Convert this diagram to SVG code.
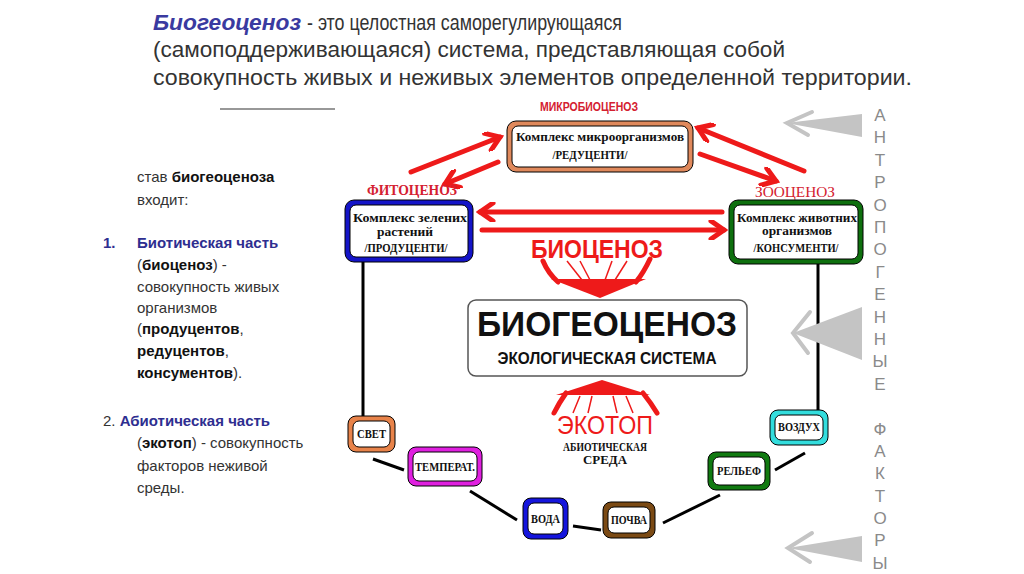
<svg xmlns="http://www.w3.org/2000/svg" width="1024" height="574" viewBox="0 0 1024 574">
<style>
.title{font-family:"Liberation Sans Narrow","Liberation Sans",Arial,sans-serif;font-size:22px;fill:#333}
.tb{fill:#3a3aa0;font-weight:bold;font-style:italic}
.lt{font-family:"Liberation Sans Narrow","Liberation Sans",Arial,sans-serif;font-size:15px;fill:#333}
.b{font-weight:bold;fill:#111}
.bl{font-weight:bold;fill:#2e2e90}
.nt{font-family:"Liberation Serif","Times New Roman",serif;font-size:12px;font-weight:bold;fill:#111;text-anchor:middle}
.lab{font-family:"Liberation Serif","Times New Roman",serif;font-size:14px;font-weight:bold;fill:#d42030;text-anchor:middle}
.inner{fill:#fff;stroke:#000;stroke-width:1}
.outer{stroke:#000;stroke-width:1}
.red{stroke:#ee1a1a;stroke-width:5;fill:none;stroke-linecap:round}
.blk{stroke:#000;stroke-width:3;fill:none}
.gray{fill:#c4c4c4}
.grayl{stroke:#c4c4c4;stroke-width:4;fill:none;stroke-linecap:round}
.vt{font-family:"Liberation Sans",Arial,sans-serif;font-size:17px;fill:#8a8a8a;text-anchor:middle}
</style>
<defs>
<marker id="ah" viewBox="0 0 20 20" refX="16" refY="10" markerWidth="20" markerHeight="20" markerUnits="userSpaceOnUse" orient="auto">
<path d="M3,1 L16,10 L3,19" fill="none" stroke="#ee1a1a" stroke-width="5" stroke-linecap="round" stroke-linejoin="miter"/>
</marker>
</defs>
<rect width="1024" height="574" fill="#fff"/>

<g id="title">
<text class="title tb" x="153" y="30" textLength="148" lengthAdjust="spacingAndGlyphs">Биогеоценоз</text>
<text class="title" x="307" y="30" textLength="315" lengthAdjust="spacingAndGlyphs">- это целостная саморегулирующаяся</text>
<text class="title" x="153" y="57" textLength="632" lengthAdjust="spacingAndGlyphs">(самоподдерживающаяся) система, представляющая собой</text>
<text class="title" x="153" y="85" textLength="759" lengthAdjust="spacingAndGlyphs">совокупность живых и неживых элементов определенной территории.</text>
<line x1="220" y1="109" x2="335" y2="109" stroke="#333" stroke-width="1.2"/>
</g>

<g id="left-text">
<text class="lt" x="137" y="182">став <tspan class="b">биогеоценоза</tspan></text>
<text class="lt" x="137" y="205">входит:</text>
<text class="lt" x="103" y="248"><tspan class="bl">1.</tspan></text>
<text class="lt" x="137" y="248"><tspan class="bl">Биотическая часть</tspan></text>
<text class="lt" x="137" y="270">(<tspan class="b">биоценоз</tspan>) -</text>
<text class="lt" x="137" y="292">совокупность живых</text>
<text class="lt" x="137" y="313">организмов</text>
<text class="lt" x="137" y="334">(<tspan class="b">продуцентов</tspan>,</text>
<text class="lt" x="137" y="356"><tspan class="b">редуцентов</tspan>,</text>
<text class="lt" x="137" y="378"><tspan class="b">консументов</tspan>).</text>
<text class="lt" x="103" y="426">2. <tspan class="bl">Абиотическая часть</tspan></text>
<text class="lt" x="137" y="448">(<tspan class="b">экотоп</tspan>) - совокупность</text>
<text class="lt" x="137" y="471">факторов неживой</text>
<text class="lt" x="137" y="493">среды.</text>
</g>

<g id="connectors">
<line class="red" x1="411" y1="172" x2="500" y2="137" marker-end="url(#ah)"/>
<line class="red" x1="498" y1="162" x2="445" y2="184" marker-end="url(#ah)"/>
<line class="red" x1="804" y1="171" x2="698" y2="128" marker-end="url(#ah)"/>
<line class="red" x1="700" y1="154" x2="776" y2="181" marker-end="url(#ah)"/>
<line class="red" x1="722" y1="212" x2="480" y2="212" marker-end="url(#ah)"/>
<line class="red" x1="482" y1="230" x2="724" y2="230" marker-end="url(#ah)"/>
<line class="blk" x1="363" y1="262" x2="363" y2="416"/>
<line class="blk" x1="373" y1="459" x2="404" y2="470"/>
<line class="blk" x1="470" y1="491" x2="517" y2="520"/>
<line class="blk" x1="573" y1="526" x2="601" y2="530"/>
<line class="blk" x1="663" y1="523" x2="720" y2="495"/>
<line class="blk" x1="775" y1="470" x2="805" y2="453"/>
<line class="blk" x1="818" y1="264" x2="818" y2="410"/>
</g>

<g id="microbiocenosis">
<text class="lab" x="589" y="111" style="font-family:'Liberation Sans',Arial,sans-serif;font-size:13px" textLength="98" lengthAdjust="spacingAndGlyphs">МИКРОБИОЦЕНОЗ</text>
<rect class="outer" x="507" y="121" width="186" height="51" rx="9" fill="#e0895c"/>
<rect class="inner" x="512" y="126" width="176" height="41" rx="6"/>
<text class="nt" x="600" y="141" textLength="168" lengthAdjust="spacingAndGlyphs">Комплекс микроорганизмов</text>
<text class="nt" x="590" y="159" textLength="75" lengthAdjust="spacingAndGlyphs">/РЕДУЦЕНТИ/</text>
</g>

<g id="phytocenosis">
<text class="lab" x="412" y="195" textLength="90" lengthAdjust="spacingAndGlyphs">ФИТОЦЕНОЗ</text>
<rect class="outer" x="345" y="200" width="128" height="62" rx="9" fill="#1414c8"/>
<rect class="inner" x="350" y="205" width="118" height="52" rx="6"/>
<text class="nt" x="410" y="222" textLength="114" lengthAdjust="spacingAndGlyphs">Комплекс зелених</text>
<text class="nt" x="405" y="236" textLength="56" lengthAdjust="spacingAndGlyphs">растений</text>
<text class="nt" x="406" y="252" textLength="83" lengthAdjust="spacingAndGlyphs">/ПРОДУЦЕНТИ/</text>
</g>

<g id="zoocenosis">
<text class="lab" x="795" y="197" style="font-weight:normal" textLength="80" lengthAdjust="spacingAndGlyphs">ЗООЦЕНОЗ</text>
<rect class="outer" x="729" y="200" width="134" height="64" rx="9" fill="#0e700e"/>
<rect class="inner" x="734" y="205" width="124" height="54" rx="6"/>
<text class="nt" x="797" y="222" textLength="120" lengthAdjust="spacingAndGlyphs">Комплекс животних</text>
<text class="nt" x="797" y="235" textLength="70" lengthAdjust="spacingAndGlyphs">организмов</text>
<text class="nt" x="796" y="252" textLength="85" lengthAdjust="spacingAndGlyphs">/КОНСУМЕНТИ/</text>
</g>

<g id="biocenosis">
<text x="597" y="258" font-family="Liberation Sans, Arial, sans-serif" font-size="26" font-weight="bold" fill="#ee1a1a" text-anchor="middle" textLength="132" lengthAdjust="spacingAndGlyphs">БИОЦЕНОЗ</text>
<path d="M543,261 Q548,273 558,282" class="red"/>
<path d="M650,259 Q644,272 636,282" class="red"/>
<g stroke="#ee1a1a" stroke-width="1.5">
<line x1="567" y1="261" x2="582" y2="280"/>
<line x1="580" y1="261" x2="590" y2="280"/>
<line x1="612" y1="261" x2="605" y2="280"/>
<line x1="627" y1="261" x2="615" y2="280"/>
</g>
<polygon points="551,279 646,279 600,298" fill="#ee1a1a"/>
</g>

<g id="biogeocenosis">
<rect x="468" y="300" width="279" height="76" rx="8" fill="#fff" stroke="#555" stroke-width="1.5"/>
<text x="607" y="336" font-family="Liberation Sans, Arial, sans-serif" font-size="35" font-weight="bold" fill="#111" text-anchor="middle" textLength="260" lengthAdjust="spacingAndGlyphs">БИОГЕОЦЕНОЗ</text>
<text x="607" y="364" font-family="Liberation Sans, Arial, sans-serif" font-size="16" font-weight="bold" fill="#111" text-anchor="middle" textLength="219" lengthAdjust="spacingAndGlyphs">ЭКОЛОГИЧЕСКАЯ СИСТЕМА</text>
</g>

<g id="ecotop">
<polygon points="602,380 650,395 556,395" fill="#ee1a1a"/>
<path d="M566,393 Q559,403 554,413" class="red"/>
<path d="M643,393 Q651,403 657,413" class="red"/>
<g stroke="#ee1a1a" stroke-width="1.5">
<line x1="580" y1="396" x2="573" y2="413"/>
<line x1="592" y1="396" x2="588" y2="413"/>
<line x1="613" y1="396" x2="617" y2="413"/>
<line x1="626" y1="396" x2="633" y2="413"/>
</g>
<text x="605" y="434" font-family="Liberation Sans, Arial, sans-serif" font-size="26" fill="#ee1a1a" text-anchor="middle" textLength="96" lengthAdjust="spacingAndGlyphs">ЭКОТОП</text>
<text class="nt" x="605" y="451" style="font-size:13px" textLength="84" lengthAdjust="spacingAndGlyphs">АБИОТИЧЕСКАЯ</text>
<text class="nt" x="605" y="464" style="font-size:13px" textLength="44" lengthAdjust="spacingAndGlyphs">СРЕДА</text>
</g>

<g id="svet">
<rect class="outer" x="348" y="416" width="47" height="36" rx="8" fill="#e8834a"/>
<rect class="inner" x="353" y="421" width="37" height="26" rx="6"/>
<text class="nt" x="371.5" y="438" textLength="29" lengthAdjust="spacingAndGlyphs">СВЕТ</text>
</g>
<g id="temperat">
<rect class="outer" x="408" y="447" width="74" height="39" rx="8" fill="#e020e0"/>
<rect class="inner" x="413" y="452" width="64" height="29" rx="6"/>
<text class="nt" x="445" y="471" textLength="60" lengthAdjust="spacingAndGlyphs">ТЕМПЕРАТ.</text>
</g>
<g id="voda">
<rect class="outer" x="523" y="498" width="45" height="41" rx="8" fill="#1515dd"/>
<rect class="inner" x="528" y="503" width="35" height="31" rx="6"/>
<text class="nt" x="545.5" y="523" textLength="29" lengthAdjust="spacingAndGlyphs">ВОДА</text>
</g>
<g id="pochva">
<rect class="outer" x="603" y="502" width="52" height="36" rx="8" fill="#7b4a14"/>
<rect class="inner" x="608" y="507" width="42" height="26" rx="6"/>
<text class="nt" x="629" y="524" textLength="36" lengthAdjust="spacingAndGlyphs">ПОЧВА</text>
</g>
<g id="relief">
<rect class="outer" x="708" y="452" width="62" height="38" rx="8" fill="#117a11"/>
<rect class="inner" x="713" y="457" width="52" height="28" rx="6"/>
<text class="nt" x="739" y="475" textLength="44" lengthAdjust="spacingAndGlyphs">РЕЛЬЕФ</text>
</g>
<g id="vozdukh">
<rect class="outer" x="770" y="410" width="58" height="35" rx="8" fill="#33dddd"/>
<rect class="inner" x="775" y="415" width="48" height="25" rx="6"/>
<text class="nt" x="799" y="431" textLength="42" lengthAdjust="spacingAndGlyphs">ВОЗДУХ</text>
</g>

<g id="anthropogenic-arrows">
<polygon class="gray" points="786,123 862,114 862,137"/>
<polyline class="grayl" points="812,112 787,123 808,135"/>
<polygon class="gray" points="793,333 862,307 862,360"/>
<polyline class="grayl" points="810,312 793,333 808,353"/>
<polygon class="gray" points="788,548 862,536 862,562"/>
<polyline class="grayl" points="812,533 788,548 810,562"/>
</g>

<g id="vertical-label">
<text class="vt" x="880" y="121">А</text>
<text class="vt" x="880" y="143">Н</text>
<text class="vt" x="880" y="166">Т</text>
<text class="vt" x="880" y="188">Р</text>
<text class="vt" x="880" y="211">О</text>
<text class="vt" x="880" y="233">П</text>
<text class="vt" x="880" y="255">О</text>
<text class="vt" x="880" y="278">Г</text>
<text class="vt" x="880" y="300">Е</text>
<text class="vt" x="880" y="323">Н</text>
<text class="vt" x="880" y="345">Н</text>
<text class="vt" x="880" y="367">Ы</text>
<text class="vt" x="880" y="390">Е</text>
<text class="vt" x="880" y="435">Ф</text>
<text class="vt" x="880" y="457">А</text>
<text class="vt" x="880" y="479">К</text>
<text class="vt" x="880" y="502">Т</text>
<text class="vt" x="880" y="524">О</text>
<text class="vt" x="880" y="546">Р</text>
<text class="vt" x="880" y="569">Ы</text>
</g>
</svg>
